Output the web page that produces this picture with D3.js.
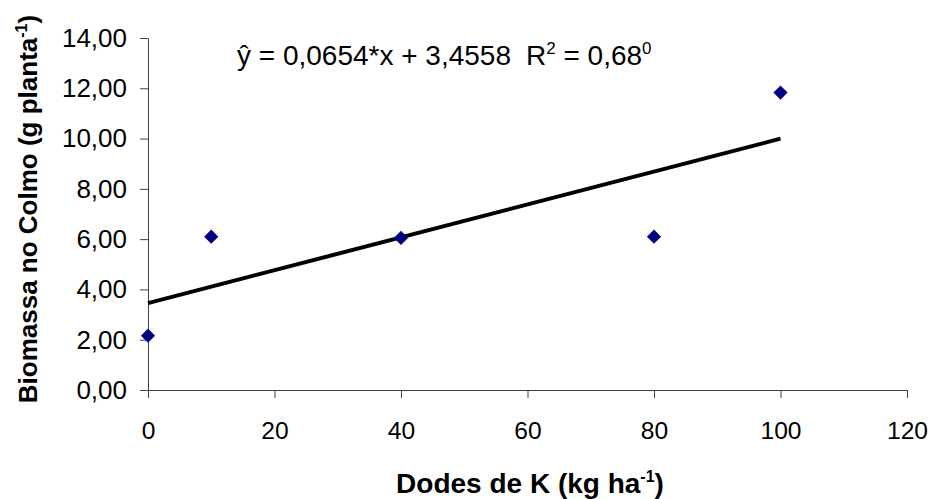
<!DOCTYPE html>
<html><head><meta charset="utf-8">
<script src="https://cdn.jsdelivr.net/npm/d3@7"></script>
<style>body{margin:0;background:#fff}svg{display:block}text{font-family:"Liberation Sans",Arial,sans-serif;fill:#000}</style>
</head><body><svg id="c" width="932" height="499"></svg>
<script>
const doses = [0, 10, 40, 80, 100];
const biomassa = [2.16, 6.1, 6.05, 6.1, 11.83];
const xTicks = [0, 20, 40, 60, 80, 100, 120];
const yTicks = [0, 2, 4, 6, 8, 10, 12, 14];
const slope = 0.0654, intercept = 3.4558;
const fitRange = [0, 100];

const svg = d3.select("#c");
const x = d3.scaleLinear().domain([0, 120]).range([148, 907]);
const y = d3.scaleLinear().domain([0, 14]).range([390, 38]);
const fmt = v => d3.format(".2f")(v).replace(".", ",");

const xAxis = svg.append("g").attr("transform", `translate(0,${y(0)})`)
  .call(d3.axisBottom(x).tickValues(xTicks).tickSize(8).tickSizeOuter(0).tickPadding(24));
xAxis.selectAll("text").attr("font-size", 24.6).attr("font-family", "Liberation Sans, Arial");
const yAxis = svg.append("g").attr("transform", `translate(${x(0)},0)`)
  .call(d3.axisLeft(y).tickValues(yTicks).tickFormat(fmt).tickSize(8).tickSizeOuter(0).tickPadding(13));
yAxis.selectAll("text").attr("font-size", 26).attr("font-family", "Liberation Sans, Arial");
svg.selectAll(".domain, .tick line").attr("stroke", "#404040");

// trend line
svg.append("line")
  .attr("x1", x(fitRange[0])).attr("y1", y(intercept + slope * fitRange[0]))
  .attr("x2", x(fitRange[1])).attr("y2", y(intercept + slope * fitRange[1]))
  .attr("stroke", "#000").attr("stroke-width", 4);

// points
svg.selectAll("path.pt").data(doses).enter().append("path").attr("class", "pt")
  .attr("d", d3.symbol().type(d3.symbolSquare).size(100))
  .attr("transform", (d, i) => `translate(${x(d)},${y(biomassa[i])}) rotate(45)`)
  .attr("fill", "#000080");

// equation
const eq = svg.append("text").attr("x", 237).attr("y", 65).attr("font-size", 28);
eq.append("tspan").text("ŷ = 0,0654*x + 3,4558");
eq.append("tspan").attr("dx", 15).text("R");
eq.append("tspan").attr("dy", -11).attr("font-size", 17).text("2");
eq.append("tspan").attr("dy", 11).text(" = 0,68");
eq.append("tspan").attr("dy", -11).attr("font-size", 17).text("0");

// x title
const xt = svg.append("text").attr("x", 530).attr("y", 493).attr("text-anchor", "middle")
  .attr("font-size", 28).attr("font-weight", "bold");
xt.append("tspan").text("Dodes de K (kg ha");
xt.append("tspan").attr("dy", -11).attr("font-size", 16).text("-1");
xt.append("tspan").attr("dy", 11).text(")");

// y title
const yt = svg.append("text").attr("transform", "translate(37,209) rotate(-90)").attr("text-anchor", "middle")
  .attr("font-size", 26).attr("font-weight", "bold");
yt.append("tspan").text("Biomassa no Colmo (g planta");
yt.append("tspan").attr("dy", -10).attr("font-size", 16).text("-1");
yt.append("tspan").attr("dy", 10).text(")");
</script></body></html>
